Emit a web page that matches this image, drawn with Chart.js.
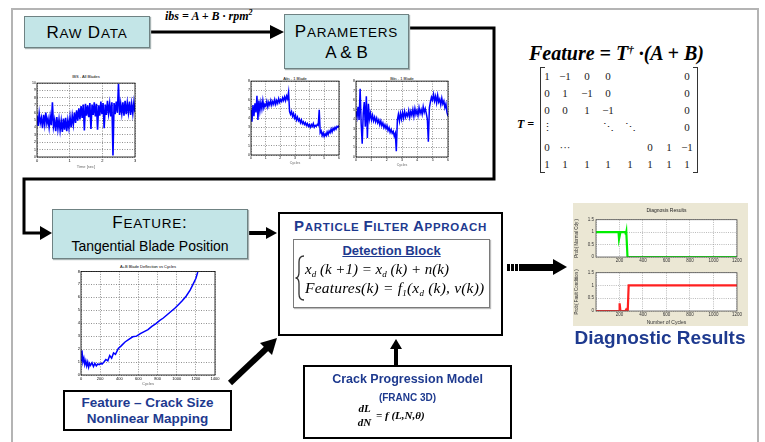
<!DOCTYPE html>
<html>
<head>
<meta charset="utf-8">
<script src="https://cdn.jsdelivr.net/npm/chart.js@4.4.1/dist/chart.umd.min.js"></script>
<style>
body{margin:0;background:#fff;}
#page{position:relative;width:765px;height:442px;overflow:hidden;font-family:"Liberation Sans",Arial,sans-serif;color:#000;}
.abs{position:absolute;}
.box{position:absolute;box-sizing:border-box;}
.cyan{background:#c3e5e7;border:1px solid #6f8283;box-shadow:1px 1px 1px #a8b4b4;}
.line{position:absolute;left:0;width:100%;text-align:center;white-space:nowrap;}
.sc{font-size:17px;letter-spacing:0.8px;}
.sc span{font-size:13.5px;}
.blue{color:#1e3a8f;font-weight:bold;}
.math{position:absolute;font-family:"Liberation Serif","Times New Roman",serif;font-style:italic;white-space:nowrap;}
.sb{font-size:9px;position:relative;top:3px;}
.ctitle{position:absolute;font-size:4px;text-align:center;white-space:nowrap;}
canvas{position:absolute;}
.mx{position:absolute;font-family:"Liberation Serif","Times New Roman",serif;font-size:11px;color:#222;width:16px;margin-left:-8px;text-align:center;line-height:12px;}
</style>
</head>
<body>
<div id="page">
  <div class="box" style="left:11px;top:8px;width:748px;height:470px;border:2px solid #b4b4b4;"></div>

  <svg class="abs" style="left:0;top:0" width="765" height="442">
    <g stroke="#000" stroke-width="3" fill="none">
      <line x1="149" y1="32" x2="272" y2="32"/>
      <polyline points="408,28 494,28 494,179 24,179 24,233 42,233"/>
      <line x1="248" y1="233" x2="267" y2="233" stroke-width="4"/>
      <line x1="230" y1="383" x2="267" y2="348" stroke-width="6"/>
    </g>
    <g fill="#000">
      <polygon points="284,32 270,25 270,39"/>
      <polygon points="52,233 40,226 40,240"/>
      <polygon points="277,233 266,227 266,239"/>
      <polygon points="277,338 272,355 260,343"/>
      <rect x="394" y="347" width="4" height="19"/>
      <polygon points="396,339 390,349 402,349"/>
      <rect x="507" y="264" width="3" height="7"/>
      <rect x="511" y="264" width="3" height="7"/>
      <rect x="515" y="264" width="3" height="7"/>
      <rect x="519" y="264" width="35" height="7"/>
      <polygon points="567,267 553,259 553,275"/>
    </g>
  </svg>

  <div class="box cyan" style="left:24px;top:16px;width:126px;height:32px;">
    <div class="line sc" style="top:6px;line-height:20px;">R<span>AW</span> D<span>ATA</span></div>
  </div>
  <div class="math" style="left:165px;top:9px;font-size:12px;font-weight:bold;line-height:14px;">ibs = A + B &middot; rpm<span style="font-size:8px;position:relative;top:-5px;">2</span></div>

  <div class="box cyan" style="left:284px;top:14px;width:125px;height:55px;">
    <div class="line sc" style="top:7px;line-height:20px;">P<span>ARAMETERS</span></div>
    <div class="line" style="top:28px;line-height:20px;font-size:17px;">A &amp; B</div>
  </div>

  <div class="ctitle" style="left:36px;top:74px;width:100px;">IBS - All Blades</div>
  <canvas id="rawChart"></canvas>
  <div class="ctitle" style="left:251px;top:76px;width:88px;">A<span style="font-size:3px">ibs</span> - 1 Blade</div>
  <canvas id="aChart"></canvas>
  <div class="ctitle" style="left:356px;top:76px;width:92px;">B<span style="font-size:3px">ibs</span> - 1 Blade</div>
  <canvas id="bChart"></canvas>

  <div class="math" style="left:529px;top:41px;font-size:20px;font-weight:bold;line-height:24px;">Feature = T<span style="font-size:11px;position:relative;top:-7px;">&dagger;</span> &middot;(A + B)</div>
  <div class="math" style="left:517px;top:117px;font-size:12px;font-weight:bold;line-height:14px;">T =</div>
  <div class="box" style="left:540px;top:67px;width:5px;height:106px;border:1px solid #333;border-right:none;"></div>
  <div class="box" style="left:693px;top:67px;width:5px;height:106px;border:1px solid #333;border-left:none;"></div>
  <div id="matrix"></div>

  <div class="box cyan" style="left:52px;top:209px;width:196px;height:50px;">
    <div class="line sc" style="top:3px;line-height:20px;">F<span>EATURE</span>:</div>
    <div class="line" style="top:27px;line-height:18px;font-size:14px;">Tangential Blade Position</div>
  </div>
  <div class="ctitle" style="left:81px;top:264px;width:134px;">A+B Blade Deflection vs Cycles</div>
  <canvas id="featChart"></canvas>

  <div class="box" style="left:63px;top:390px;width:169px;height:41px;border:2px solid #000;background:#fff;">
    <div class="line blue" style="top:3px;line-height:16px;font-size:13.5px;">Feature &ndash; Crack Size</div>
    <div class="line blue" style="top:19px;line-height:16px;font-size:13.5px;">Nonlinear Mapping</div>
  </div>

  <div class="box" style="left:278px;top:212px;width:225px;height:124px;border:2.5px solid #000;background:#fff;">
    <div class="line blue" style="top:4px;line-height:16px;font-size:11.5px;letter-spacing:0.7px;"><span style="font-size:15px">P</span>ARTICLE <span style="font-size:15px">F</span>ILTER <span style="font-size:15px">A</span>PPROACH</div>
  </div>
  <div class="box" style="left:293px;top:239px;width:197px;height:69px;border:1.5px solid #7a7a7a;box-shadow:1px 1px 1px #bbb;background:#fff;">
    <div class="line blue" style="top:3px;line-height:15px;font-size:13px;text-decoration:underline;">Detection Block</div>
  </div>
  <svg class="abs" style="left:0;top:0" width="765" height="442">
    <path d="M304 256 Q299 256 299 262 L299 272 Q299 278 295.5 278 Q299 278 299 284 L299 294 Q299 300 304 300" stroke="#333" stroke-width="1.3" fill="none"/>
    <line x1="356" y1="415" x2="373" y2="415" stroke="#000" stroke-width="1"/>
  </svg>
  <div class="math" style="left:305px;top:260px;font-size:15px;line-height:18px;">x<span class="sb">d</span> (k +1) = x<span class="sb">d</span> (k) + n(k)</div>
  <div class="math" style="left:305px;top:279px;font-size:15.5px;line-height:18px;letter-spacing:0.2px;">Features(k) = f<span class="sb">1</span>(x<span class="sb">d</span> (k), v(k))</div>

  <div class="box" style="left:303px;top:365px;width:209px;height:74px;border:2px solid #000;background:#fff;">
    <div class="line blue" style="top:5px;line-height:15px;font-size:12.5px;">Crack Progression Model</div>
    <div class="line blue" style="top:25px;line-height:12px;font-size:10px;">(FRANC 3D)</div>
  </div>
  <div class="math" style="left:356px;top:402px;width:17px;text-align:center;font-size:11px;font-weight:bold;line-height:12px;">dL</div>
  <div class="math" style="left:356px;top:416px;width:17px;text-align:center;font-size:11px;font-weight:bold;line-height:12px;">dN</div>
  <div class="math" style="left:376px;top:409px;font-size:11px;font-weight:bold;line-height:12px;">= f (L,N,&theta;)</div>

  <div class="box" style="left:573px;top:203px;width:175px;height:123px;background:#ebe7d4;"></div>
  <div class="ctitle" style="left:596px;top:207px;width:141px;font-size:5px;color:#222;">Diagnosis Results</div>
  <canvas id="normalChart"></canvas>
  <canvas id="faultChart"></canvas>
  <div class="line blue" style="left:560px;width:200px;top:326px;line-height:24px;font-size:19px;">Diagnostic Results</div>
</div>

<script>
// raw ibs signal, all blades (evenly sampled over 0..3)
var rawY = [5.6,4.2,5.9,4.6,5.3,3.9,5.7,4.4,6.0,4.5,
  5.2,4.0,5.5,4.3,7.4,4.1,5.0,3.5,5.4,3.8,
  5.1,3.6,4.9,3.4,5.2,3.7,5.3,3.5,5.0,3.9,
  5.4,4.0,5.6,4.4,6.0,4.6,6.3,4.9,6.6,5.1,
  6.9,5.3,7.1,3.6,7.2,5.6,7.0,5.4,7.3,3.8,
  7.1,5.7,7.4,5.5,7.2,3.7,7.0,5.6,7.5,5.8,
  7.3,3.9,7.1,5.7,7.6,5.9,7.2,5.5,7.4,0.2,
  7.3,5.8,7.5,6.0,9.9,5.7,7.2,5.9,7.4,5.6,
  7.6,5.8,7.3,6.0,7.5,5.7,7.2,5.9,7.4,6.1];
var rawSpan = 3;

// parameters A and B for one blade (evenly sampled over 0..6)
var paramA = [4.9,3.6,5.4,4.2,5.6,4.6,6.4,3.8,5.9,4.8,
  5.7,5.0,5.9,5.1,5.5,5.3,5.8,5.2,5.7,5.4,
  5.9,5.4,5.8,5.5,6.0,5.5,5.9,5.6,6.1,5.7,
  6.0,5.8,6.2,5.9,6.3,5.9,6.4,6.1,6.8,4.7,
  4.4,4.7,4.2,4.5,4.0,4.3,3.8,4.1,3.7,3.9,
  3.5,3.8,3.4,3.6,3.3,3.5,3.2,3.4,3.1,3.3,
  3.0,3.3,3.1,3.4,3.0,3.2,3.1,3.3,3.2,4.9,
  2.4,2.6,2.1,2.4,2.0,2.3,2.1,2.5,2.2,2.6,
  2.4,2.8,2.5,2.9,2.7,3.0,2.8,3.1,3.0,3.2];
var paramB = [4.8,4.2,5.3,3.9,7.2,3.5,1.4,4.6,5.8,3.2,
  6.4,2.0,5.6,4.0,4.6,3.9,4.4,3.8,4.2,3.7,
  4.1,3.6,3.9,3.4,3.8,3.3,3.6,3.1,3.4,3.0,
  3.3,2.8,3.1,2.6,2.9,2.5,2.7,2.2,2.5,0.6,
  3.9,4.5,3.8,4.6,4.0,4.7,4.1,4.8,4.2,4.6,
  4.3,4.9,4.2,4.8,4.4,5.0,4.3,5.1,4.5,4.9,
  4.4,5.2,4.6,5.0,4.5,5.3,4.7,5.1,4.6,4.0,
  1.6,5.2,5.8,6.3,6.0,6.6,5.9,6.4,5.7,6.5,
  5.8,6.1,5.5,6.2,5.6,5.9,5.2,5.6,4.7,4.3];
var paramSpan = 6;

// feature (tangential blade position) vs cycles
var featCycles = [0,10,20,30,40,50,60,70,80,90,100,115,130,145,160,175,190,205,220,240,260,280,300,320,340,360,390,420,460,500,540,580,620,660,700,740,780,820,860,900,940,980,1020,1060,1100,1140,1170,1200,1220];
var featValue = [1.1,1.9,1.0,1.3,0.8,1.1,0.7,1.0,0.6,0.9,0.75,0.95,0.65,0.9,0.7,0.85,0.8,0.9,0.85,1.0,1.2,1.1,1.5,1.3,1.7,1.6,2.05,2.25,2.55,2.75,2.95,3.0,3.2,3.35,3.5,3.75,3.95,4.2,4.4,4.65,4.9,5.15,5.45,5.75,6.1,6.55,7.0,7.45,7.95];

// diagnosis results
var normalCycles = [0,192,196,204,208,250,254,258,262,268,1200];
var normalProb = [1,1,0.72,0.72,1,1,0.9,1,1,0,0];
var faultCycles = [0,196,198,204,208,250,256,262,270,278,1200];
var faultProb = [0,0,0.3,0.3,0,0,0.05,0,0,1,1];

var matrixRows = [
  ['1','\u22121','0','0','','','','0'],
  ['0','1','\u22121','0','','','','0'],
  ['0','0','1','\u22121','','','','0'],
  ['\u22EE','','','\u22F1','\u22F1','','','0'],
  ['0','\u00B7\u00B7\u00B7','','','','0','1','\u22121'],
  ['1','1','1','1','1','1','1','1']
];

var mxCols = [547,565,587,608,630,650,669,687];
var mxRows = [70,87,104,121,141,158];
var mxDiv = document.getElementById('matrix');
matrixRows.forEach(function(row, r) {
  row.forEach(function(t, c) {
    if (!t) return;
    var s = document.createElement('div');
    s.className = 'mx';
    s.style.left = mxCols[c] + 'px';
    s.style.top = mxRows[r] + 'px';
    s.textContent = t;
    mxDiv.appendChild(s);
  });
});

var plotFrame = {
  id: 'plotFrame',
  beforeDraw: function(c) {
    var a = c.chartArea, ctx = c.ctx;
    ctx.save();
    ctx.fillStyle = '#fff';
    ctx.fillRect(a.left, a.top, a.right - a.left, a.bottom - a.top);
    ctx.restore();
  },
  afterDraw: function(c, args, opts) {
    var a = c.chartArea, ctx = c.ctx;
    ctx.save();
    ctx.strokeStyle = opts.color || '#000';
    ctx.lineWidth = 0.8;
    ctx.strokeRect(a.left, a.top, a.right - a.left, a.bottom - a.top);
    ctx.restore();
  }
};

function axis(min, max, step, size, extra) {
  return Object.assign({
    type: 'linear', min: min, max: max,
    ticks: { stepSize: step, font: { size: size, family: 'Liberation Sans' }, color: '#000', padding: 1, autoSkip: false, maxRotation: 0, minRotation: 0,
      callback: function(v) { return String(v); } },
    grid: { color: '#222', lineWidth: 0.5, drawTicks: false },
    border: { display: false, dash: [1, 1.5] }
  }, extra || {});
}

function miniChart(id, area, pad, datasets, xAxis, yAxis, frameColor) {
  var cv = document.getElementById(id);
  var w = area.w + pad.l + pad.r, h = area.h + pad.t + pad.b;
  cv.width = w; cv.height = h;
  cv.style.left = (area.x - pad.l) + 'px';
  cv.style.top = (area.y - pad.t) + 'px';
  cv.style.width = w + 'px';
  cv.style.height = h + 'px';
  xAxis.afterFit = function(s) { s.height = pad.b; };
  yAxis.afterFit = function(s) { s.width = pad.l; };
  return new Chart(cv, {
    type: 'line',
    data: { datasets: datasets },
    options: {
      responsive: false, animation: false, devicePixelRatio: 1,
      layout: { padding: { top: pad.t, right: pad.r, left: 0, bottom: 0 } },
      plugins: { legend: { display: false }, tooltip: { enabled: false }, plotFrame: { color: frameColor } },
      elements: { point: { radius: 0 }, line: { tension: 0 } },
      scales: { x: xAxis, y: yAxis }
    },
    plugins: [plotFrame]
  });
}

function spread(vals, span) {
  return vals.map(function(v, i) { return { x: i * span / (vals.length - 1), y: v }; });
}
function pairs(xs, ys) {
  return xs.map(function(x, i) { return { x: x, y: ys[i] }; });
}

var blue = '#0000ff';

miniChart('rawChart', { x: 37, y: 83, w: 98, h: 74 }, { l: 17, t: 3, r: 4, b: 12 },
  [{ data: spread(rawY, rawSpan), borderColor: blue, borderWidth: 1.6 }],
  axis(0, 3, 1, 4, { title: { display: true, text: 'Time [sec]', font: { size: 4 }, padding: 0 } }),
  axis(0, 10, 1, 3.5));

miniChart('aChart', { x: 251, y: 81, w: 88, h: 74 }, { l: 13, t: 3, r: 4, b: 10 },
  [{ data: spread(paramA, paramSpan), borderColor: blue, borderWidth: 1.5 }],
  axis(0, 6, 1, 3.5, { title: { display: true, text: 'Cycles', font: { size: 3.5 }, padding: 0 } }),
  axis(0, 8, 1, 3.5));

miniChart('bChart', { x: 356, y: 81, w: 92, h: 76 }, { l: 9, t: 3, r: 4, b: 10 },
  [{ data: spread(paramB, paramSpan), borderColor: blue, borderWidth: 1.5 }],
  axis(0, 6, 1, 3.5, { title: { display: true, text: 'Cycles', font: { size: 3.5 }, padding: 0 } }),
  axis(0, 8, 1, 3.5));

miniChart('featChart', { x: 81, y: 271, w: 134, h: 104 }, { l: 12, t: 3, r: 6, b: 11 },
  [{ data: pairs(featCycles, featValue), borderColor: blue, borderWidth: 1.5 }],
  axis(0, 1400, 200, 4, { title: { display: true, text: 'Cycles', font: { size: 4 }, padding: 0 } }),
  axis(0, 8, 1, 4));

function diagX(withTitle) {
  var o = axis(0, 1200, 200, 4.5, {
    grid: { color: '#777', lineWidth: 0.5, drawTicks: false },
    border: { display: false, dash: [1, 1.2] }
  });
  o.ticks.color = '#333';
  o.ticks.callback = function(v) { return v === 0 ? '' : String(v); };
  if (withTitle) o.title = { display: true, text: 'Number of Cycles', font: { size: 5 }, color: '#333', padding: 0 };
  return o;
}
function diagY(label) {
  var o = axis(0, 1.5, 0.5, 4.5, {
    grid: { color: '#777', lineWidth: 0.5, drawTicks: false },
    border: { display: false, dash: [1, 1.2] },
    title: { display: true, text: label, font: { size: 4.5 }, color: '#333', padding: 0 }
  });
  o.ticks.color = '#333';
  o.ticks.padding = 2;
  return o;
}

miniChart('normalChart', { x: 596, y: 217, w: 141, h: 40 }, { l: 22, t: 2, r: 6, b: 9 },
  [{ data: pairs(normalCycles, normalProb), borderColor: '#00ee00', borderWidth: 2.2 }],
  diagX(false), diagY('Prob( Normal Cdy )'), '#555');

miniChart('faultChart', { x: 596, y: 270, w: 141, h: 41 }, { l: 22, t: 2, r: 6, b: 15 },
  [{ data: pairs(faultCycles, faultProb), borderColor: '#ff2020', borderWidth: 2.2 }],
  diagX(true), diagY('Prob( Fault Condition )'), '#555');
</script>
</body>
</html>
